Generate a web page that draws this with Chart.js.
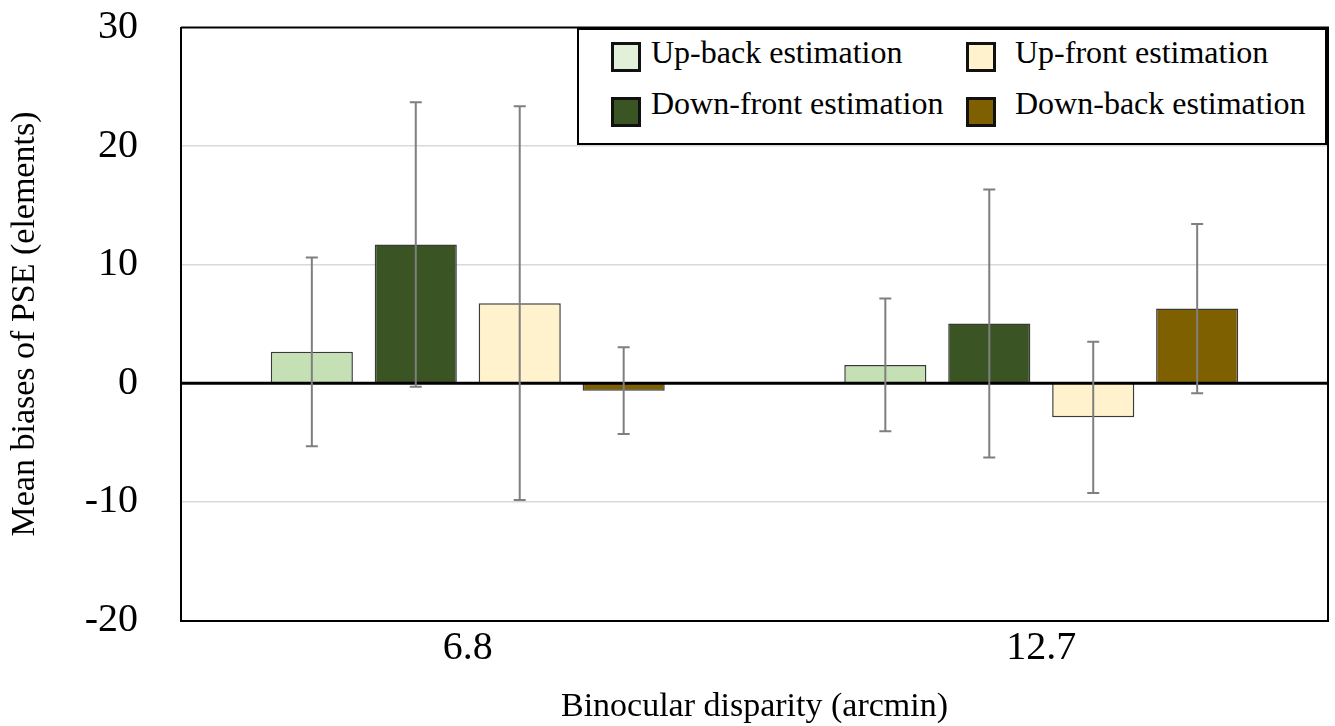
<!DOCTYPE html>
<html>
<head>
<meta charset="utf-8">
<title>Mean biases of PSE</title>
<script src="https://cdn.jsdelivr.net/npm/chart.js@4.4.1/dist/chart.umd.min.js"></script>
<style>
  html, body { margin: 0; padding: 0; background: #fff; overflow: hidden; }
  #wrap { position: relative; width: 1335px; height: 726px; }
  #legend {
    position: absolute; left: 577px; top: 28px; width: 750px; height: 117px;
    box-sizing: border-box; border: 2px solid #000; background: #fff;
    font-family: "Liberation Serif", serif; font-size: 32px; color: #000;
  }
  #legend .sw { position: absolute; width: 30px; height: 30px; box-sizing: border-box; border: 3px solid #111; }
  #legend .lbl { position: absolute; line-height: 1; white-space: nowrap; }
  /* 2 x 2 grid, filled column by column */
  #legend .c1.sw { left: 32px; }
  #legend .c2.sw { left: 387px; }
  #legend .c1.lbl { left: 72px; }
  #legend .c2.lbl { left: 436px; }
  #legend .r1.sw { top: 12px; }
  #legend .r2.sw { top: 67px; }
  #legend .r1.lbl { top: 6px; }
  #legend .r2.lbl { top: 57px; }
</style>
</head>
<body>
<div id="wrap">
  <canvas id="chart"></canvas>
  <div id="legend"></div>
</div>
<script>
// x categories: binocular disparity (arcmin)
var categories = ['6.8', '12.7'];
var seriesNames = ['Up-back estimation', 'Down-front estimation', 'Up-front estimation', 'Down-back estimation'];

// mean PSE bias per condition
var upBack    = [2.65, 1.55];
var downFront = [11.7, 5.05];
var upFront   = [6.75, -2.87];
var downBack  = [-0.62, 6.3];

// error bar half-lengths
var upBackErr    = [7.95, 5.6];
var downFrontErr = [12.0, 11.3];
var upFrontErr   = [16.6, 6.38];
var downBackErr  = [3.65, 7.13];

var yTicks = [-20, -10, 0, 10, 20, 30];

var barColors    = ['#c5e0b4', '#3a5423', '#fff2cc', '#7f6000'];
var legendColors = ['#e2f0d9', '#3a5423', '#fff2cc', '#7f6000'];

var values = [upBack, downFront, upFront, downBack];
var errors = [upBackErr, downFrontErr, upFrontErr, downBackErr];

var serif = '"Liberation Serif", "Times New Roman", serif';
Chart.defaults.font.family = serif;
Chart.defaults.color = '#000';

var datasets = [];
for (var i = 0; i < seriesNames.length; i++) {
  datasets.push({
    label: seriesNames[i],
    data: values[i],
    errors: errors[i],
    backgroundColor: barColors[i],
    borderColor: '#3a3a3a',
    borderWidth: 1.5,
    categoryPercentage: 0.725,
    barPercentage: 0.79
  });
}

// zero line, top/right frame and error bars on top of the bars
var overlay = {
  id: 'overlay',
  afterDatasetsDraw: function(chart) {
    var ctx = chart.ctx;
    var y = chart.scales.y;
    var a = chart.chartArea;
    ctx.save();

    var y0 = y.getPixelForValue(0);
    ctx.strokeStyle = '#000';
    ctx.lineWidth = 3;
    ctx.beginPath();
    ctx.moveTo(a.left, y0);
    ctx.lineTo(a.right, y0);
    ctx.stroke();

    ctx.lineWidth = 2;
    ctx.beginPath();
    ctx.moveTo(a.left, a.top);
    ctx.lineTo(a.right, a.top);
    ctx.lineTo(a.right, a.bottom);
    ctx.stroke();

    ctx.strokeStyle = '#7f7f7f';
    ctx.lineWidth = 2;
    chart.data.datasets.forEach(function(ds, di) {
      var meta = chart.getDatasetMeta(di);
      meta.data.forEach(function(bar, j) {
        var v = ds.data[j], e = ds.errors[j];
        var yt = y.getPixelForValue(v + e);
        var yb = y.getPixelForValue(v - e);
        var x = bar.x;
        ctx.beginPath();
        ctx.moveTo(x, yt); ctx.lineTo(x, yb);
        ctx.moveTo(x - 6, yt); ctx.lineTo(x + 6, yt);
        ctx.moveTo(x - 6, yb); ctx.lineTo(x + 6, yb);
        ctx.stroke();
      });
    });
    ctx.restore();
  }
};

new Chart(document.getElementById('chart'), {
  type: 'bar',
  data: { labels: categories, datasets: datasets },
  plugins: [overlay],
  options: {
    responsive: true,
    maintainAspectRatio: false,
    animation: false,
    layout: { padding: { left: 0, top: 27.5, right: 7, bottom: 0 } },
    plugins: {
      legend: { display: false },
      tooltip: { enabled: false }
    },
    scales: {
      x: {
        grid: { display: false, drawTicks: false },
        border: { display: true, color: '#000', width: 2 },
        ticks: { font: { size: 40 }, padding: 4, color: '#000' },
        title: {
          display: true,
          text: 'Binocular disparity (arcmin)',
          font: { size: 34, lineHeight: 1 },
          padding: { top: 0, bottom: 2 },
          color: '#000'
        },
        afterFit: function(scale) {
          scale.height = 105.5;
          scale.paddingLeft = 0;
          scale.paddingRight = 0;
        }
      },
      y: {
        min: yTicks[0],
        max: yTicks[yTicks.length - 1],
        ticks: { stepSize: 10, font: { size: 40 }, padding: 43, color: '#000' },
        grid: {
          drawTicks: false,
          lineWidth: 1.5,
          color: function(c) {
            var v = c.tick.value;
            if (v === 0 || v === yTicks[0] || v === yTicks[yTicks.length - 1]) return 'rgba(0,0,0,0)';
            return '#d9d9d9';
          }
        },
        border: { display: true, color: '#000', width: 2 },
        title: {
          display: true,
          text: 'Mean biases of PSE (elements)',
          font: { size: 34, lineHeight: 1 },
          padding: { top: 8, bottom: 0 },
          color: '#000'
        },
        afterFit: function(scale) {
          scale.width = 181;
          scale.paddingTop = 0;
          scale.paddingBottom = 0;
        }
      }
    }
  }
});

// legend: column-major 2 x 2 layout
var legend = document.getElementById('legend');
for (var k = 0; k < seriesNames.length; k++) {
  var pos = 'c' + (Math.floor(k / 2) + 1) + ' r' + (k % 2 + 1);
  var sw = document.createElement('div');
  sw.className = 'sw ' + pos;
  sw.style.background = legendColors[k];
  var lb = document.createElement('div');
  lb.className = 'lbl ' + pos;
  lb.textContent = seriesNames[k];
  legend.appendChild(sw);
  legend.appendChild(lb);
}
</script>
</body>
</html>
